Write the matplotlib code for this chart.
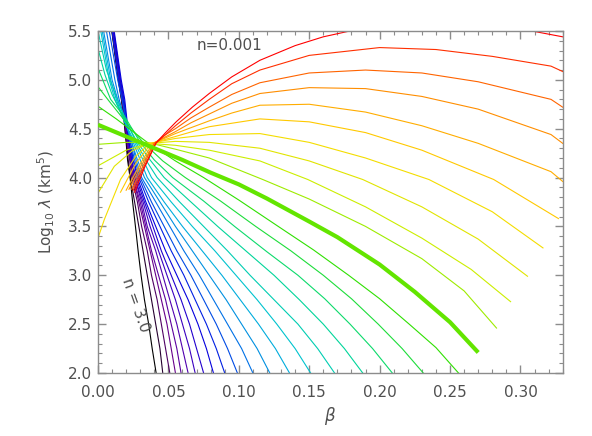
import matplotlib
matplotlib.use("Agg")
import matplotlib.pyplot as plt
from matplotlib.colors import LinearSegmentedColormap

# polytropic index of every curve (red = 0.001 ... black = 3.0)
n_values = [0.001, 0.1, 0.2, 0.3, 0.4, 0.5, 0.6, 0.7, 0.8, 0.9, 1.0,
            1.1, 1.2, 1.3, 1.4, 1.5, 1.6, 1.7, 1.8, 1.9, 2.0,
            2.1, 2.2, 2.3, 2.4, 2.5, 2.6, 2.7, 2.8, 2.9, 3.0]
thick_n = 1.0

# log10 lambda levels at which the steep curves (n >= 1.6) were read
steep_levels = [5.5, 5.0, 4.8, 4.6, 4.36, 4.18, 4.0, 3.75, 3.5, 3.25, 3.0, 2.75, 2.5, 2.25, 2.0]

# beta (compactness), one list per curve
beta_curves = [
    [0.026, 0.033, 0.0413, 0.048, 0.0555, 0.067, 0.079, 0.095, 0.115, 0.14, 0.16, 0.179, 0.22, 0.26, 0.29, 0.308, 0.33],
    [0.025, 0.033, 0.041, 0.048, 0.055, 0.066, 0.079, 0.095, 0.115, 0.15, 0.2, 0.24, 0.28, 0.3217, 0.33],
    [0.024, 0.032, 0.040, 0.047, 0.055, 0.066, 0.079, 0.095, 0.115, 0.15, 0.19, 0.23, 0.27, 0.3217, 0.33],
    [0.022, 0.031, 0.040, 0.047, 0.055, 0.066, 0.079, 0.095, 0.115, 0.15, 0.19, 0.23, 0.27, 0.3217, 0.33],
    [0.020, 0.030, 0.039, 0.047, 0.055, 0.066, 0.079, 0.095, 0.115, 0.15, 0.19, 0.23, 0.27, 0.3217, 0.33],
    [0.016, 0.027, 0.038, 0.055, 0.079, 0.115, 0.15, 0.19, 0.23, 0.281, 0.327],
    [0.0, 0.0045, 0.016, 0.027, 0.037, 0.055, 0.079, 0.115, 0.15, 0.19, 0.235, 0.28, 0.316],
    [0.0, 0.0116, 0.024, 0.036, 0.055, 0.079, 0.115, 0.15, 0.188, 0.23, 0.27, 0.305],
    [0.0, 0.02, 0.036, 0.055, 0.079, 0.115, 0.149, 0.19, 0.23, 0.265, 0.293],
    [0.0, 0.02, 0.035, 0.055, 0.079, 0.117, 0.15, 0.19, 0.23, 0.26, 0.283],
    [0.0, 0.02, 0.04, 0.06, 0.08, 0.10, 0.12, 0.15, 0.17, 0.20, 0.225, 0.25, 0.27],
    [0.0, 0.013, 0.035, 0.055, 0.075, 0.1, 0.128, 0.153, 0.178, 0.2, 0.221, 0.24, 0.256],
    [0.0, 0.008, 0.018, 0.032, 0.046, 0.062, 0.087, 0.112, 0.137, 0.16, 0.18, 0.199, 0.216, 0.231],
    [0.0, 0.009, 0.02, 0.03, 0.04, 0.053, 0.075, 0.097, 0.12, 0.142, 0.161, 0.179, 0.195, 0.209],
    [0.0, 0.005, 0.01, 0.018, 0.028, 0.037, 0.047, 0.066, 0.085, 0.105, 0.125, 0.143, 0.16, 0.175, 0.188],
    [0.0, 0.006, 0.015, 0.027, 0.034, 0.042, 0.058, 0.075, 0.092, 0.108, 0.125, 0.142, 0.156, 0.168],
    [0.002, 0.008, 0.012, 0.018, 0.026, 0.032, 0.038, 0.052, 0.067, 0.083, 0.098, 0.113, 0.127, 0.14, 0.151],
    [0.003, 0.009, 0.013, 0.018, 0.025, 0.030, 0.035, 0.047, 0.060, 0.074, 0.088, 0.101, 0.114, 0.126, 0.136],
    [0.004, 0.010, 0.014, 0.019, 0.024, 0.028, 0.033, 0.044, 0.055, 0.067, 0.079, 0.091, 0.102, 0.113, 0.122],
    [0.006, 0.012, 0.015, 0.019, 0.024, 0.027, 0.031, 0.041, 0.051, 0.061, 0.072, 0.082, 0.092, 0.102, 0.110],
    [0.008, 0.014, 0.017, 0.020, 0.023, 0.026, 0.030, 0.038, 0.047, 0.056, 0.066, 0.075, 0.084, 0.092, 0.099],
    [0.010, 0.015, 0.018, 0.020, 0.023, 0.025, 0.029, 0.036, 0.044, 0.052, 0.061, 0.069, 0.077, 0.084, 0.090],
    [0.0115, 0.0165, 0.019, 0.0205, 0.022, 0.025, 0.028, 0.034, 0.041, 0.048, 0.056, 0.064, 0.071, 0.077, 0.082],
    [0.0112, 0.016, 0.0185, 0.020, 0.022, 0.024, 0.027, 0.033, 0.039, 0.045, 0.052, 0.059, 0.065, 0.070, 0.075],
    [0.011, 0.0158, 0.018, 0.0198, 0.0215, 0.024, 0.026, 0.032, 0.037, 0.043, 0.049, 0.055, 0.060, 0.065, 0.069],
    [0.0108, 0.0155, 0.0178, 0.0195, 0.021, 0.0235, 0.026, 0.031, 0.035, 0.041, 0.046, 0.051, 0.056, 0.060, 0.064],
    [0.0106, 0.0153, 0.0175, 0.0193, 0.021, 0.023, 0.025, 0.030, 0.034, 0.038, 0.043, 0.048, 0.052, 0.056, 0.059],
    [0.0104, 0.015, 0.0172, 0.019, 0.0208, 0.023, 0.025, 0.029, 0.033, 0.037, 0.041, 0.045, 0.049, 0.052, 0.055],
    [0.0102, 0.0148, 0.017, 0.0188, 0.0206, 0.0225, 0.024, 0.028, 0.031, 0.035, 0.038, 0.042, 0.045, 0.048, 0.051],
    [0.010, 0.0146, 0.0168, 0.0186, 0.0203, 0.0215, 0.023, 0.026, 0.029, 0.032, 0.035, 0.038, 0.041, 0.044, 0.046],
    [0.0098, 0.0144, 0.0166, 0.0184, 0.020, 0.021, 0.0228, 0.0246, 0.0266, 0.0285, 0.0306, 0.033, 0.036, 0.0385, 0.0413],
]

# log10 lambda (km^5) at the same points
logl_curves = [
    [3.85, 4.10, 4.355, 4.46, 4.57, 4.72, 4.86, 5.03, 5.20, 5.35, 5.44, 5.50, 5.58, 5.59, 5.55, 5.50, 5.44],
    [3.87, 4.12, 4.35, 4.44, 4.53, 4.66, 4.80, 4.96, 5.10, 5.25, 5.33, 5.31, 5.24, 5.14, 5.085],
    [3.88, 4.12, 4.35, 4.43, 4.50, 4.61, 4.72, 4.85, 4.97, 5.07, 5.10, 5.07, 4.98, 4.80, 4.72],
    [3.88, 4.13, 4.35, 4.41, 4.47, 4.56, 4.65, 4.76, 4.86, 4.92, 4.91, 4.83, 4.70, 4.44, 4.35],
    [3.87, 4.14, 4.35, 4.40, 4.45, 4.51, 4.58, 4.66, 4.74, 4.75, 4.67, 4.53, 4.35, 4.06, 3.96],
    [3.85, 4.15, 4.35, 4.42, 4.52, 4.60, 4.57, 4.46, 4.28, 3.98, 3.58],
    [3.38, 3.57, 3.98, 4.22, 4.35, 4.40, 4.44, 4.45, 4.36, 4.20, 3.98, 3.65, 3.28],
    [3.84, 4.115, 4.27, 4.35, 4.37, 4.36, 4.30, 4.17, 3.98, 3.70, 3.37, 2.99],
    [4.12, 4.28, 4.35, 4.33, 4.28, 4.17, 3.98, 3.70, 3.38, 3.06, 2.73],
    [4.34, 4.36, 4.36, 4.29, 4.20, 3.98, 3.78, 3.50, 3.17, 2.84, 2.46],
    [4.54, 4.42, 4.30, 4.18, 4.05, 3.93, 3.785, 3.55, 3.39, 3.11, 2.83, 2.52, 2.21],
    [4.73, 4.6, 4.36, 4.17, 4.0, 3.77, 3.5, 3.26, 3.0, 2.76, 2.5, 2.26, 2.0],
    [4.93, 4.78, 4.6, 4.36, 4.17, 4.0, 3.76, 3.5, 3.25, 3.0, 2.76, 2.5, 2.25, 2.0],
    [5.12, 4.8, 4.6, 4.36, 4.18, 4.0, 3.76, 3.5, 3.24, 3.0, 2.76, 2.5, 2.25, 2.0],
    [5.32, 5.05, 4.85, 4.62, 4.36, 4.18, 4.0, 3.75, 3.5, 3.25, 3.0, 2.75, 2.5, 2.25, 2.0],
    [5.5, 5.1, 4.75, 4.36, 4.18, 4.0, 3.75, 3.5, 3.25, 3.0, 2.75, 2.5, 2.25, 2.0],
] + [steep_levels] * 15

# IDL-like rainbow table, black -> purple -> blue -> cyan -> green -> yellow -> red
rainbow = ["#000000", "#6a0087", "#4a00b8", "#0000e0", "#0070e6", "#00c0d8",
           "#00d890", "#30e000", "#c8f000", "#ffd800", "#ff8800", "#ff0000"]
cmap = LinearSegmentedColormap.from_list("idl_rainbow", rainbow)

axis_gray = "#8c8c8c"
text_gray = "#505050"

fig = plt.figure(figsize=(5.92, 4.36), dpi=100)
ax = fig.add_axes([0.1655, 0.1445, 0.785, 0.7845])

# black first, red last; the n=1 curve is drawn thick on top
for k in range(len(n_values) - 1, -1, -1):
    n = n_values[k]
    c = cmap((3.0 - n) / 3.0)
    if n == thick_n:
        ax.plot(beta_curves[k], logl_curves[k], color=c, lw=3.0, zorder=5, solid_capstyle="butt")
    else:
        ax.plot(beta_curves[k], logl_curves[k], color=c, lw=0.8, zorder=2)

ax.set_xlim(0.0, 0.33)
ax.set_ylim(2.0, 5.5)
ax.set_xticks([0.0, 0.05, 0.10, 0.15, 0.20, 0.25, 0.30])
ax.set_xticks([i * 0.01 for i in range(34)], minor=True)
ax.set_yticks([2.0, 2.5, 3.0, 3.5, 4.0, 4.5, 5.0, 5.5])
ax.set_yticks([2.0 + i * 0.1 for i in range(36)], minor=True)
ax.set_xticklabels(["0.00", "0.05", "0.10", "0.15", "0.20", "0.25", "0.30"])
ax.set_yticklabels(["2.0", "2.5", "3.0", "3.5", "4.0", "4.5", "5.0", "5.5"])

for s in ax.spines.values():
    s.set_color(axis_gray)
    s.set_linewidth(1.0)
ax.tick_params(which="both", direction="in", top=True, right=True,
               color=axis_gray, labelcolor=text_gray, labelsize=11)
ax.tick_params(which="major", length=6, width=1.0)
ax.tick_params(which="minor", length=3, width=0.8)
ax.tick_params(axis="x", pad=9)
ax.tick_params(axis="y", pad=4)

ax.set_xlabel(r"$\beta$", color=text_gray, fontsize=12, labelpad=3)
ax.set_ylabel(r"Log$_{10}$ $\lambda$ (km$^5$)", color=text_gray, fontsize=11, labelpad=8)

ax.text(0.0698, 5.347, "n=0.001", color=text_gray, fontsize=11, ha="left", va="center")
ax.text(0.0266, 2.694, "n = 3.0", color=text_gray, fontsize=11, ha="center", va="center",
        rotation=-70.6, rotation_mode="anchor")

fig.savefig("out.png", dpi=100)
